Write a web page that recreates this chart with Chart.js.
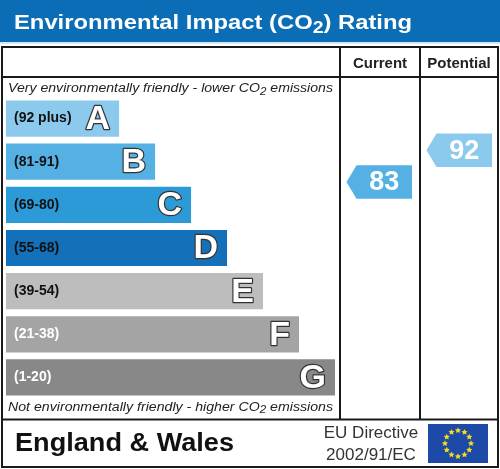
<!DOCTYPE html>
<html>
<head>
<meta charset="utf-8">
<title>Environmental Impact (CO2) Rating</title>
<script src="https://cdn.jsdelivr.net/npm/chart.js@4.4.1/dist/chart.umd.min.js"></script>
<style>
    html, body { margin: 0; padding: 0; background: #fff; }
    #wrap { width: 500px; height: 469px; position: relative; }
</style>
</head>
<body>
<div id="wrap"><canvas id="co2Chart"></canvas></div>
<script>
// band data
const bands = ['A', 'B', 'C', 'D', 'E', 'F', 'G'];
const bandRanges = ['(92 plus)', '(81-91)', '(69-80)', '(55-68)', '(39-54)', '(21-38)', '(1-20)'];
const bandLengths = [22, 29, 36, 43, 50, 57, 64];
const bandColors = ['#8ccaed', '#55b1e3', '#2c9ad6', '#1470b9', '#bdbdbd', '#a4a4a4', '#888888'];
const rangeTextColors = ['#111', '#111', '#111', '#111', '#111', '#fff', '#fff'];

// ratings
const ratingColumns = ['Current', 'Potential'];
const ratingValues = [83, 92];
const ratingColors = ['#55b1e3', '#8ccaed'];

const FONT = '"Liberation Sans", Arial, sans-serif';

// text with a lowered "2", stretched sideways to a target width
function drawSubText(ctx, parts, x, y, size, weight, style, targetWidth) {
    const fontFor = p => `${style || ''} ${weight || ''} ${p.sub ? size * 0.82 : size}px ${FONT}`;
    let total = 0;
    parts.forEach(p => { ctx.font = fontFor(p); total += ctx.measureText(p.t).width; });
    const k = targetWidth ? targetWidth / total : 1;
    ctx.save();
    ctx.translate(x, y);
    ctx.scale(k, 1);
    let cx = 0;
    parts.forEach(p => {
        ctx.font = fontFor(p);
        ctx.fillText(p.t, cx, p.sub ? size * 0.22 : 0);
        cx += ctx.measureText(p.t).width;
    });
    ctx.restore();
}

function star(ctx, cx, cy, r) {
    ctx.beginPath();
    for (let i = 0; i < 10; i++) {
        const a = -Math.PI / 2 + i * Math.PI / 5;
        const rr = i % 2 === 0 ? r : r * 0.5;
        ctx.lineTo(cx + rr * Math.cos(a), cy + rr * Math.sin(a));
    }
    ctx.closePath();
    ctx.fill();
}

const frameLayout = {
    left: 2, right: 498, top: 47, bottom: 467,
    headRow: 77, footRow: 419.5,
    cols: [340, 420]
};

const epcPlugin = {
    id: 'epcFrame',
    beforeDraw(chart) {
        const ctx = chart.ctx;
        const f = frameLayout;
        ctx.save();
        ctx.fillStyle = '#fff';
        ctx.fillRect(0, 0, chart.width, chart.height);

        // title band
        ctx.fillStyle = '#0b6db6';
        ctx.fillRect(0, 0, chart.width, 42);
        ctx.fillStyle = '#d6e8f5';
        ctx.fillRect(0, 42, chart.width, 2);
        ctx.fillStyle = '#fff';
        ctx.textBaseline = 'alphabetic';
        ctx.textAlign = 'left';
        drawSubText(ctx, [{t: 'Environmental Impact (CO'}, {t: '2', sub: true}, {t: ') Rating'}], 14, 28.5, 21, 'bold', '', 398);

        // frame
        ctx.strokeStyle = '#1a1a1a';
        ctx.lineWidth = 2;
        ctx.strokeRect(f.left, f.top, f.right - f.left, f.bottom - f.top);
        ctx.beginPath();
        ctx.moveTo(f.left, f.headRow); ctx.lineTo(f.right, f.headRow);
        ctx.moveTo(f.left, f.footRow); ctx.lineTo(f.right, f.footRow);
        f.cols.forEach(x => { ctx.moveTo(x, f.top); ctx.lineTo(x, f.footRow); });
        ctx.stroke();

        // column headings
        ctx.fillStyle = '#222';
        ctx.font = `bold 15px ${FONT}`;
        ctx.textAlign = 'center';
        const colEdges = [f.cols[0], f.cols[1], f.right];
        ratingColumns.forEach((name, i) => {
            ctx.fillText(name, (colEdges[i] + colEdges[i + 1]) / 2, 67.5);
        });

        // captions
        ctx.textAlign = 'left';
        ctx.fillStyle = '#222';
        drawSubText(ctx, [{t: 'Very environmentally friendly - lower CO'}, {t: '2', sub: true}, {t: ' emissions'}], 8, 92, 12.5, '', 'italic', 325);
        drawSubText(ctx, [{t: 'Not environmentally friendly - higher CO'}, {t: '2', sub: true}, {t: ' emissions'}], 8, 410.5, 12.5, '', 'italic', 325);

        // footer
        ctx.fillStyle = '#111';
        drawSubText(ctx, [{t: 'England & Wales'}], 15, 450.5, 26, 'bold', '', 219);
        ctx.fillStyle = '#333';
        ctx.font = `17px ${FONT}`;
        ctx.textAlign = 'center';
        ctx.fillText('EU Directive', 371, 438);
        ctx.fillText('2002/91/EC', 371, 460);

        // EU flag
        ctx.fillStyle = '#1c4aa6';
        ctx.fillRect(428, 424, 60, 39);
        ctx.fillStyle = '#f3dc1c';
        for (let i = 0; i < 12; i++) {
            const a = i * Math.PI / 6;
            star(ctx, 458 + 13 * Math.cos(a), 443.5 + 13 * Math.sin(a), 3.2);
        }
        ctx.restore();
    },
    afterDatasetsDraw(chart) {
        const ctx = chart.ctx;
        const meta = chart.getDatasetMeta(0);
        ctx.save();
        ctx.textBaseline = 'middle';
        meta.data.forEach((bar, i) => {
            ctx.textAlign = 'left';
            ctx.fillStyle = rangeTextColors[i];
            ctx.font = `bold 14px ${FONT}`;
            ctx.fillText(bandRanges[i], bar.base + 8, bar.y);

            ctx.textAlign = 'right';
            ctx.font = `bold 34px ${FONT}`;
            ctx.lineWidth = 2.4;
            ctx.strokeStyle = '#333';
            ctx.lineJoin = 'round';
            ctx.strokeText(bands[i], bar.x - 9, bar.y + 1);
            ctx.fillStyle = '#fff';
            ctx.fillText(bands[i], bar.x - 9, bar.y + 1);
        });

        // rating arrows
        const rs = chart.scales.rating;
        const colLefts = frameLayout.cols;
        ratingValues.forEach((v, i) => {
            const cy = rs.getPixelForValue(v);
            const tip = colLefts[i] + 6.5;
            const l = tip + 10;
            const r = colLefts[i] + 72;
            const h = 16.8;
            ctx.fillStyle = ratingColors[i];
            ctx.beginPath();
            ctx.moveTo(tip, cy);
            ctx.lineTo(l, cy - h);
            ctx.lineTo(r, cy - h);
            ctx.lineTo(r, cy + h);
            ctx.lineTo(l, cy + h);
            ctx.closePath();
            ctx.fill();
            ctx.fillStyle = '#fff';
            ctx.font = `bold 27px ${FONT}`;
            ctx.textAlign = 'center';
            ctx.fillText(String(v), (l + r) / 2, cy + 1);
        });
        ctx.restore();
    }
};

const ctxCo2 = document.getElementById('co2Chart').getContext('2d');
new Chart(ctxCo2, {
    type: 'bar',
    data: {
        labels: bands,
        datasets: [{
            data: bandLengths,
            backgroundColor: bandColors,
            borderWidth: 0,
            barPercentage: 0.84,
            categoryPercentage: 1
        }]
    },
    options: {
        indexAxis: 'y',
        responsive: true,
        maintainAspectRatio: false,
        animation: false,
        devicePixelRatio: 1,
        layout: {
            padding: { left: 6, right: 165, top: 97, bottom: 70 }
        },
        plugins: {
            legend: { display: false },
            tooltip: { enabled: false }
        },
        scales: {
            x: { type: 'linear', min: 0, max: 64, display: false },
            y: { type: 'category', display: false },
            rating: { type: 'linear', axis: 'y', min: 26.75, max: 101.75, display: false }
        }
    },
    plugins: [epcPlugin]
});
</script>
</body>
</html>
